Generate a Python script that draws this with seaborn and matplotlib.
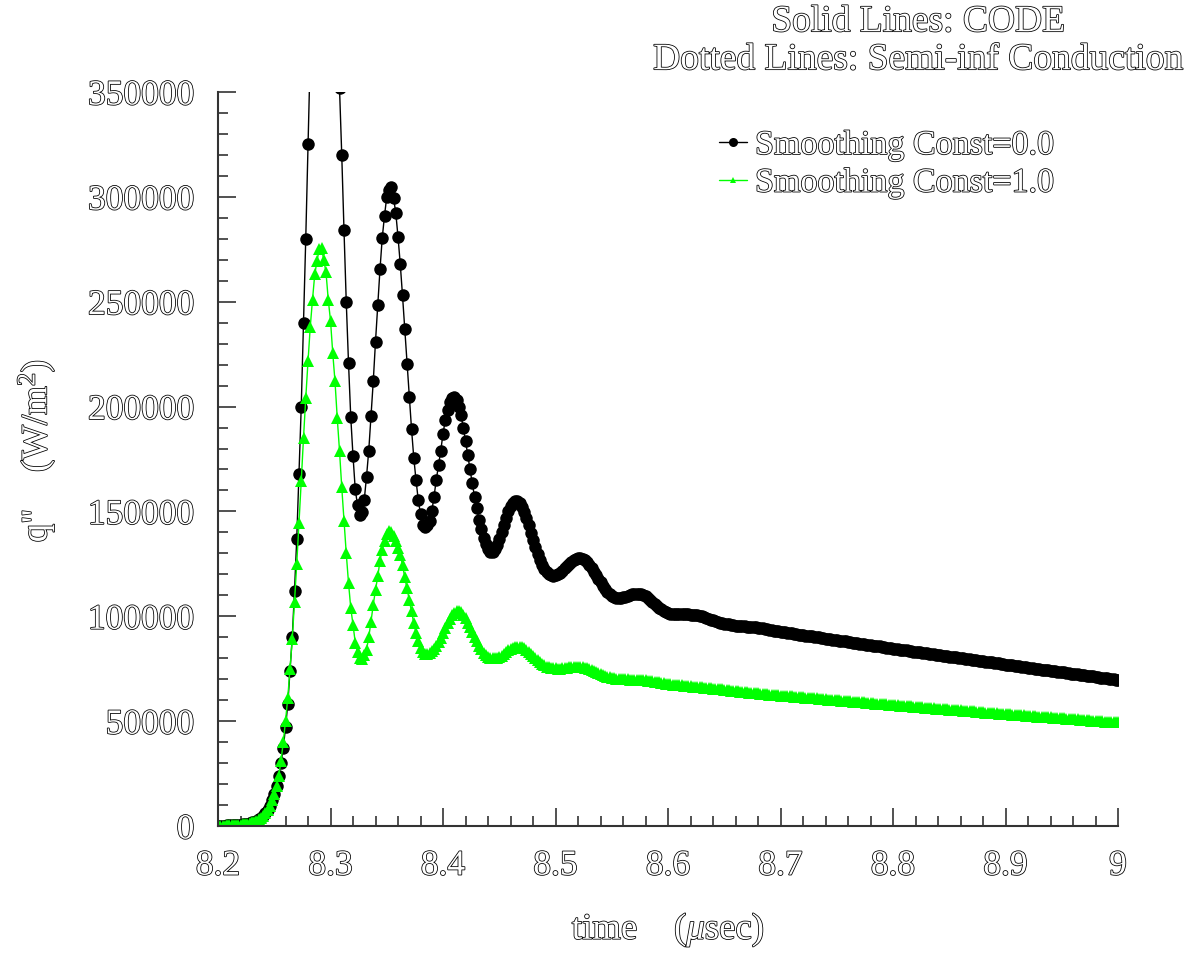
import numpy as np
import pandas as pd
import matplotlib
matplotlib.use("Agg")
import matplotlib.pyplot as plt
import matplotlib.patheffects as pe
from matplotlib.ticker import MultipleLocator, FixedLocator, FixedFormatter
import seaborn as sns

# ---------------- data (q'' in kW/m^2, sampled every 0.002 usec from 8.2) ----------------
t_start = 8.2
t_step = 0.002

q_smooth_0 = [
    0.1, 0.15, 0.2, 0.2, 0.25, 0.3, 0.35, 0.4, 0.45, 0.55,
    0.65, 0.8, 0.95, 1.15, 1.4, 1.7, 2.1, 2.6, 3.2, 4.0,
    5.0, 6.2, 7.8, 9.7, 12.2, 15.2,
    19, 24, 30, 37, 47, 58, 74, 90, 112, 137, 168, 200, 240, 280, 325,
    368, 405, 435, 458, 472, 478, 476, 466, 450, 430, 407, 385, 366, 352,
    320, 284, 250, 221, 195, 176.5, 160.5, 153, 148.5, 149.5, 155.5,
    166.5, 179, 195.6, 212, 231, 248.5, 265.5, 280.5, 291, 300,
    303.5, 304.5, 299.5, 292.5, 281, 268, 253, 237, 220.5, 204.5,
    189.5, 175.7, 165, 155.5, 148.6, 143.5, 142.5, 143.4, 145.5,
    150, 157, 165, 172, 179, 187, 193.5, 198.5, 202, 204,
    204.6, 203.2, 200, 196, 190, 183.5, 177, 170, 163.5, 157,
    151.5, 146, 141.5, 137.5, 134.5, 132, 130.5,
    130.8, 132, 134, 136.8, 140, 143.5, 147, 150, 152.5, 154,
    154.8, 154.8, 154, 152.3, 149.8, 146.8, 143.3, 139.7, 136.2, 132.8,
    129.6, 126.8, 124.4, 122.5, 121, 120, 119.5, 119.3, 119.5, 120,
    120.8, 121.8, 122.9, 124, 125, 126, 126.8, 127.4, 127.7, 127.8,
    127.5, 126.8, 125.8, 124.5, 123.0, 121.3, 119.6, 117.9, 116.2,
    114.6, 113.1, 111.8, 110.6, 109.7, 109.1, 108.8, 108.7, 108.8, 109.0,
    109.3, 109.7, 110.1, 110.4, 110.6, 110.7, 110.7, 110.5, 110.1, 109.5,
    108.8, 107.9, 107.0, 106.0, 105.0, 104.1, 103.3, 102.6, 102.0, 101.6,
    101.3, 101.1, 101.0, 100.9, 100.9, 100.9, 100.9, 100.9, 100.9, 100.8,
    100.7, 100.6, 100.4, 100.2, 99.9, 99.6, 99.2, 98.8, 98.4, 98.0,
    97.6, 97.3, 97.0, 96.7, 96.5, 96.3, 96.1, 95.9, 95.8, 95.6,
    95.5, 95.4, 95.3, 95.2, 95.1, 95.0, 94.9, 94.8, 94.7, 94.6,
    94.4, 94.2, 94.0, 93.8, 93.6, 93.4, 93.2, 93.0, 92.8, 92.6,
    92.4, 92.3, 92.1, 92.0, 91.8, 91.6, 91.5, 91.3, 91.2, 91.0,
    90.8, 90.7, 90.5, 90.4, 90.2, 90.0, 89.9, 89.7, 89.6, 89.4,
    89.2, 89.1, 88.9, 88.8, 88.6, 88.4, 88.3, 88.1, 88.0, 87.8,
    87.6, 87.5, 87.3, 87.2, 87.0, 86.8, 86.7, 86.5, 86.4, 86.2,
    86.0, 85.9, 85.7, 85.6, 85.4, 85.2, 85.1, 84.9, 84.8, 84.6,
    84.4, 84.3, 84.1, 84.0, 83.8, 83.7, 83.5, 83.4, 83.2, 83.1,
    82.9, 82.8, 82.6, 82.5, 82.3, 82.2, 82.0, 81.9, 81.7, 81.6,
    81.4, 81.3, 81.1, 81.0, 80.8, 80.7, 80.5, 80.4, 80.2, 80.1,
    79.9, 79.8, 79.6, 79.5, 79.3, 79.2, 79.0, 78.9, 78.7, 78.6,
    78.4, 78.3, 78.1, 78.0, 77.8, 77.7, 77.5, 77.4, 77.2, 77.0,
    76.9, 76.7, 76.6, 76.4, 76.3, 76.1, 76.0, 75.8, 75.7, 75.5,
    75.4, 75.2, 75.1, 74.9, 74.8, 74.6, 74.5, 74.3, 74.2, 74.0,
    73.9, 73.7, 73.6, 73.5, 73.3, 73.2, 73.0, 72.9, 72.7, 72.6,
    72.4, 72.3, 72.1, 72.0, 71.8, 71.7, 71.5, 71.4, 71.3, 71.1,
    71.0, 70.8, 70.7, 70.5, 70.4, 70.2, 70.1, 69.9, 69.8, 69.6,
]

q_smooth_1 = [
    0.1, 0.15, 0.2, 0.2, 0.25, 0.3, 0.35, 0.4, 0.45, 0.55,
    0.65, 0.8, 0.95, 1.15, 1.4, 1.7, 2.1, 2.6, 3.2, 4.0,
    5.0, 6.2, 7.8, 9.7, 12.2, 15.2, 19, 24, 31,
    40, 50, 61, 75, 89, 107, 125, 144.5, 164.5, 185,
    204, 221.5, 238, 251, 263, 269.5, 275, 275.5, 270, 264,
    251, 241, 225.5, 212, 194.5, 179, 161.5, 145.5, 130, 116,
    104, 96, 87.5, 83, 80, 79.5, 81.5, 84, 90, 97.5,
    105.5, 112.6, 119, 126.5, 131.7, 136, 139.2, 140.7, 140.3, 138.5,
    135.8, 132.5, 129.3, 124.5, 118.5, 113.3, 107.8, 102.3, 96.8, 92,
    88, 84.8, 83, 82.2, 82,
    82.5, 83.3, 84.5, 86, 87.8, 89.8, 92, 94.3, 96.6, 98.7,
    100.5, 101.8, 102.5, 102.6, 102, 100.8, 99, 97, 94.8, 92.5,
    90.2, 88, 86, 84.2, 82.7, 81.5, 80.6, 80.1, 79.9, 79.9,
    80.1, 80.6, 81.3, 82.1, 83, 83.8, 84.5, 85, 85.3, 85.5,
    85.5, 85.3, 84.8, 84.1, 83.2, 82.2, 81.1, 80, 79, 78.1,
    77.3, 76.6, 76, 75.6, 75.4, 75.3,
    75.2, 75.1, 75.1, 75.2, 75.3, 75.5, 75.7, 75.8, 75.9, 76.0,
    76.0, 75.9, 75.8, 75.5, 75.2, 74.8, 74.3, 73.8, 73.3, 72.8,
    72.3, 71.9, 71.5, 71.2, 70.9, 70.7, 70.5, 70.3, 70.2, 70.1,
    70.0, 69.9, 69.9, 69.8, 69.8, 69.8, 69.7, 69.7, 69.6, 69.5,
    69.4, 69.3, 69.2, 69.0, 68.9, 68.7, 68.5, 68.3, 68.1, 67.9,
    67.7, 67.6, 67.4, 67.3, 67.2, 67.1, 67.0, 66.9, 66.8, 66.7,
    66.6, 66.5, 66.4, 66.3, 66.2, 66.1, 66.0, 65.9, 65.8, 65.7,
    65.5, 65.4, 65.3, 65.2, 65.1, 64.9, 64.8, 64.7, 64.6, 64.4,
    64.3, 64.2, 64.0, 63.9, 63.8, 63.7, 63.6, 63.5, 63.4, 63.3,
    63.2, 63.1, 63.0, 62.9, 62.8, 62.7, 62.6, 62.5, 62.4, 62.3,
    62.2,
    62.1, 62.0, 61.9, 61.8, 61.8, 61.7, 61.6, 61.5, 61.4, 61.3,
    61.2, 61.1, 61.0, 60.9, 60.9, 60.8, 60.7, 60.6, 60.5, 60.4,
    60.3, 60.2, 60.1, 60.0, 60.0, 59.9, 59.8, 59.7, 59.6, 59.5,
    59.4, 59.3, 59.2, 59.1, 59.1, 59.0, 58.9, 58.8, 58.7, 58.6,
    58.5, 58.4, 58.3, 58.2, 58.2, 58.1, 58.0, 57.9, 57.8, 57.7,
    57.6, 57.5, 57.4, 57.4, 57.3, 57.2, 57.1, 57.0, 56.9, 56.8,
    56.7, 56.7, 56.6, 56.5, 56.4, 56.3, 56.2, 56.1, 56.0, 56.0,
    55.9, 55.8, 55.7, 55.6, 55.5, 55.4, 55.3, 55.3, 55.2, 55.1,
    55.0, 54.9, 54.8, 54.7, 54.6, 54.6, 54.5, 54.4, 54.3, 54.2,
    54.1, 54.0, 53.9, 53.9, 53.8, 53.7, 53.6, 53.5, 53.4, 53.4,
    53.3, 53.2, 53.1, 53.0, 53.0, 52.9, 52.8, 52.7, 52.6, 52.6,
    52.5, 52.4, 52.3, 52.2, 52.2, 52.1, 52.0, 51.9, 51.8, 51.8,
    51.7, 51.6, 51.5, 51.4, 51.4, 51.3, 51.2, 51.1, 51.0, 51.0,
    50.9, 50.8, 50.7, 50.6, 50.6, 50.5, 50.4, 50.3, 50.2, 50.2,
    50.1, 50.0, 49.9, 49.8, 49.8, 49.7, 49.6, 49.5, 49.4, 49.4,
]

series_labels = ["Smoothing Const=0.0", "Smoothing Const=1.0"]
x_ticks = [8.2, 8.3, 8.4, 8.5, 8.6, 8.7, 8.8, 8.9, 9.0]
x_ticklabels = ["8.2", "8.3", "8.4", "8.5", "8.6", "8.7", "8.8", "8.9", "9"]
y_ticks = [0, 50000, 100000, 150000, 200000, 250000, 300000, 350000]
y_ticklabels = ["0", "50000", "100000", "150000", "200000", "250000", "300000", "350000"]
title_lines = ["Solid Lines: CODE", "Dotted Lines: Semi-inf Conduction"]

assert len(q_smooth_0) == 401 and len(q_smooth_1) == 401, (len(q_smooth_0), len(q_smooth_1))

# ---------------- build frames ----------------
def frame(vals):
    n = len(vals)
    t = np.round(t_start + t_step * np.arange(n), 4)
    return pd.DataFrame({"t": t, "q": np.asarray(vals, float) * 1000.0})

df0 = frame(q_smooth_0)
df1 = frame(q_smooth_1)

# ---------------- style ----------------
sns.set_theme(style="white")
plt.rcParams["font.family"] = ["Liberation Serif", "DejaVu Serif"]
plt.rcParams["mathtext.fontset"] = "custom"
plt.rcParams["mathtext.rm"] = "Liberation Serif"
plt.rcParams["mathtext.it"] = "Liberation Serif:italic"

hollow = [pe.Stroke(linewidth=1.15, foreground="black"), pe.Normal()]

W, H = 1197, 954
fig = plt.figure(figsize=(W / 100, H / 100), dpi=100)
fig.patch.set_facecolor("white")
ax_l, ax_r, ax_t, ax_b = 218, 1118, 93, 827
ax = fig.add_axes([ax_l / W, 1 - ax_b / H, (ax_r - ax_l) / W, (ax_b - ax_t) / H])
ax.set_facecolor("white")

sns.lineplot(data=df0, x="t", y="q", ax=ax, color="black", linewidth=1.0,
             marker="o", markersize=9.0, markeredgewidth=0, markeredgecolor="black",
             label=series_labels[0], sort=False, estimator=None)
sns.lineplot(data=df1, x="t", y="q", ax=ax, color="#00ff00", linewidth=1.0,
             marker="^", markersize=8.5, markeredgewidth=0, markeredgecolor="#00ff00",
             label=series_labels[1], sort=False, estimator=None)

ax.set_xlim(8.2, 9.0)
ax.set_ylim(0, 350000)
ax.set_xlabel("")
ax.set_ylabel("")
sns.despine(ax=ax)
for s in ("left", "bottom"):
    ax.spines[s].set_color("#333333")
    ax.spines[s].set_linewidth(1.5)

ax.xaxis.set_major_locator(FixedLocator(x_ticks))
ax.xaxis.set_major_formatter(FixedFormatter(x_ticklabels))
ax.yaxis.set_major_locator(FixedLocator(y_ticks))
ax.yaxis.set_major_formatter(FixedFormatter(y_ticklabels))
ax.xaxis.set_minor_locator(MultipleLocator(0.02))
ax.yaxis.set_minor_locator(MultipleLocator(10000))
ax.tick_params(which="both", direction="in", color="#222222", width=1.1,
               bottom=True, left=True, top=False, right=False)
ax.tick_params(which="major", length=13, labelsize=25.5, pad=17, labelcolor="white")
ax.tick_params(which="minor", length=7)

leg = ax.legend(loc="upper left", bbox_to_anchor=(0.557, 0.948), frameon=False,
                fontsize=24.5, handlelength=0.8, handletextpad=0.25, labelspacing=0.2,
                borderpad=0, borderaxespad=0)
hs = leg.legend_handles
hs[0].set_markersize(6.5)
hs[1].set_markersize(4.0)
for txt in leg.get_texts():
    txt.set_color("white")
    txt.set_path_effects(hollow)

cx = 918 / W
fig.text(cx, 1 - 23 / H, title_lines[0], ha="center", va="center", fontsize=27,
         color="white", path_effects=hollow)
fig.text(cx, 1 - 61 / H, title_lines[1], ha="center", va="center", fontsize=27,
         color="white", path_effects=hollow)

fig.text(668 / W, 1 - 931 / H, r"time    ($\mu$sec)", ha="center", va="center",
         fontsize=26.5, color="white", path_effects=hollow)
fig.text(36 / W, 1 - 452 / H, "q\"    (W/m$^{2}$)", ha="center", va="center",
         rotation=90, fontsize=26.5, color="white", path_effects=hollow)

fig.canvas.draw()
for lbl in ax.get_xticklabels() + ax.get_yticklabels():
    lbl.set_color("white")
    lbl.set_path_effects(hollow)

fig.savefig("out.png", dpi=100, facecolor="white")
